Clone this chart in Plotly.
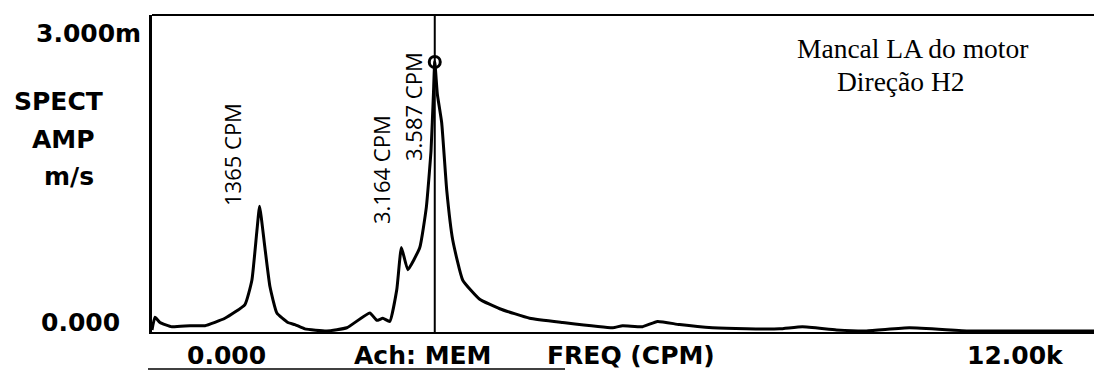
import plotly.graph_objects as go

# Spectrum data (frequency in CPM, amplitude in mm/s)
freq_cpm = [0, 38, 101, 253, 482, 672, 925, 1179, 1267, 1331, 1365, 1432, 1496, 1584,
            1724, 1812, 1939, 2218, 2471, 2763, 2852, 2928, 3016, 3105, 3164, 3245,
            3397, 3480, 3540, 3570, 3587, 3620, 3675, 3739, 3815, 3942, 4157, 4411,
            4791, 5209, 5843, 5970, 6223, 6413, 6692, 7110, 7541, 7959, 8251, 8682,
            9062, 9607, 10368, 11000, 12000]
amp = [0.02, 0.14, 0.09, 0.05, 0.06, 0.06, 0.13, 0.26, 0.49, 0.96, 1.19, 0.80, 0.43, 0.18,
       0.09, 0.07, 0.03, 0.01, 0.04, 0.18, 0.11, 0.13, 0.10, 0.40, 0.80, 0.59,
       0.80, 1.18, 1.72, 2.25, 2.56, 2.25, 1.98, 1.34, 0.87, 0.49, 0.31, 0.22,
       0.13, 0.09, 0.04, 0.06, 0.05, 0.10, 0.07, 0.04, 0.03, 0.03, 0.05, 0.02,
       0.01, 0.04, 0.01, 0.01, 0.01]

marker_freq = [3587]
marker_amp = [2.555]

y_labels = ["3.000m", "0.000"]
x_labels = ["0.000", "Ach: MEM", "FREQ (CPM)", "12.00k"]
y_title = ["SPECT", "AMP", "m/s"]
note_lines = ["Mancal LA do motor", "Direção H2"]
peak_notes = ["1365 CPM", "3.164 CPM", "3.587 CPM"]

W, H = 1094, 372
L, R, T, B = 152, 0, 15, 40
PW, PH = W - L - R, H - T - B


def px(x):
    return (x - L) / PW


def py(y):
    return (H - B - y) / PH


fig = go.Figure()
fig.add_trace(go.Scatter(x=freq_cpm, y=amp, mode="lines",
                         line=dict(color="black", width=3, shape="spline", smoothing=0.4),
                         hoverinfo="skip"))
fig.add_trace(go.Scatter(x=marker_freq, y=marker_amp, mode="markers",
                         marker=dict(symbol="circle-open", size=11, color="black",
                                     line=dict(width=3, color="black")),
                         hoverinfo="skip"))

# cursor line and frame
fig.add_shape(type="line", xref="x", yref="paper", x0=marker_freq[0], x1=marker_freq[0],
              y0=0, y1=1, line=dict(color="black", width=2))
fig.add_shape(type="line", xref="paper", yref="paper", x0=0, x1=1, y0=1, y1=1,
              line=dict(color="black", width=2))
fig.add_shape(type="line", xref="paper", yref="paper", x0=px(148), x1=px(565),
              y0=py(369), y1=py(369), line=dict(color="black", width=1.5))

mono = dict(family="DejaVu Sans", size=25, color="black", weight="bold")
ann = []
ann.append(dict(text=y_labels[0], x=px(143), y=py(34), xanchor="right", yanchor="middle"))
ann.append(dict(text=y_labels[1], x=px(122), y=py(322), xanchor="right", yanchor="middle"))
ann.append(dict(text=y_title[0], x=px(12), y=py(102), xanchor="left", yanchor="middle"))
ann.append(dict(text=y_title[1], x=px(30), y=py(139), xanchor="left", yanchor="middle"))
ann.append(dict(text=y_title[2], x=px(42), y=py(177), xanchor="left", yanchor="middle"))
ann.append(dict(text=x_labels[0], x=px(226), y=py(355), xanchor="center", yanchor="middle"))
ann.append(dict(text=x_labels[1], x=px(352), y=py(355), xanchor="left", yanchor="middle"))
ann.append(dict(text=x_labels[2], x=px(545), y=py(355), xanchor="left", yanchor="middle"))
ann.append(dict(text=x_labels[3], x=px(1066), y=py(355), xanchor="right", yanchor="middle"))
for a in ann:
    a.update(xref="paper", yref="paper", showarrow=False, font=mono)

serif = dict(family="Liberation Serif", size=27.5, color="black")
ann.append(dict(text=note_lines[0], x=px(795), y=py(48), xanchor="left", yanchor="middle",
                xref="paper", yref="paper", showarrow=False, font=serif))
ann.append(dict(text=note_lines[1], x=px(835), y=py(81), xanchor="left", yanchor="middle",
                xref="paper", yref="paper", showarrow=False, font=serif))

hand = dict(family="Open Sans", size=22, color="black")
for t, (cx, cy) in zip(peak_notes, [(232, 155), (381, 170), (413, 107)]):
    ann.append(dict(text=t, x=px(cx), y=py(cy), xanchor="center", yanchor="middle",
                    textangle=-90, xref="paper", yref="paper", showarrow=False, font=hand))

fig.update_layout(
    width=W, height=H,
    margin=dict(l=L, r=R, t=T, b=B),
    paper_bgcolor="white", plot_bgcolor="white",
    showlegend=False,
    annotations=ann,
    xaxis=dict(range=[0, 11950], showgrid=False, zeroline=False, showticklabels=False,
               ticks="", showline=True, linecolor="black", linewidth=2),
    yaxis=dict(range=[0, 3], showgrid=False, zeroline=False, showticklabels=False,
               ticks="", showline=True, linecolor="black", linewidth=3),
)

fig.write_html("out.html")
